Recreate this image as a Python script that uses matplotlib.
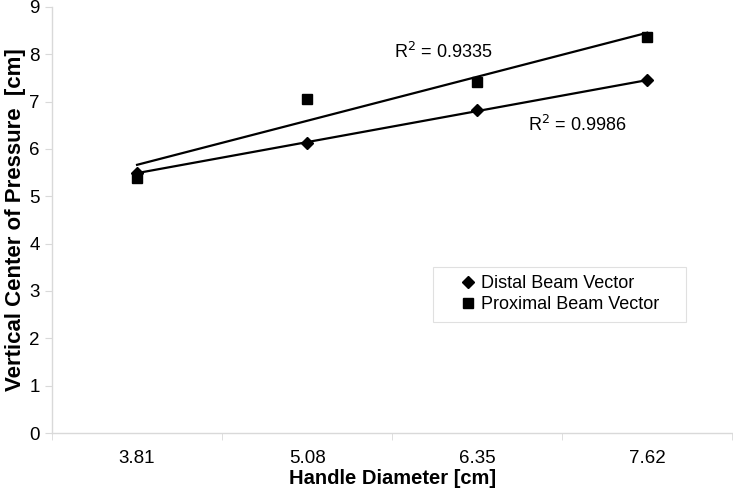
import matplotlib
matplotlib.use("Agg")
import matplotlib.pyplot as plt
import numpy as np

plt.rcParams['font.family'] = ['Liberation Sans', 'DejaVu Sans']

categories = ["3.81", "5.08", "6.35", "7.62"]
distal = [5.50, 6.12, 6.82, 7.45]
proximal = [5.39, 7.06, 7.42, 8.37]
r2_distal = "R$^2$ = 0.9986"
r2_proximal = "R$^2$ = 0.9335"

grey = "#d9d9d9"

fig = plt.figure(figsize=(7.33, 4.96), dpi=100)
ax = fig.add_axes([0.071, 0.127, 0.928, 0.859])

x = np.arange(1, len(categories) + 1)

# linear trend lines (Excel style)
for vals in (proximal, distal):
    k, b = np.polyfit(x, vals, 1)
    ax.plot(x, k * x + b, color="black", lw=1.6, zorder=2)

ax.plot(x, distal, linestyle="none", marker="D", ms=6, color="black",
        label="Distal Beam Vector", zorder=3)
ax.plot(x, proximal, linestyle="none", marker="s", ms=7, color="black",
        label="Proximal Beam Vector", zorder=3)

ax.text(2.51, 8.05, r2_proximal, fontsize=13, va="center", ha="left")
ax.text(3.30, 6.51, r2_distal, fontsize=13, va="center", ha="left")

ax.set_xlim(0.5, 4.5)
ax.set_ylim(0, 9)
ax.set_yticks(range(0, 10))
ax.set_xticks(x)
ax.set_xticklabels(categories)
ax.set_xticks(np.arange(0.5, 4.6, 1.0), minor=True)
ax.tick_params(axis="x", which="major", length=0, labelsize=13.5, pad=12)
ax.tick_params(axis="x", which="minor", length=5, color=grey)
ax.tick_params(axis="y", length=5, color=grey, labelsize=13.5, pad=4)

for s in ("top", "right"):
    ax.spines[s].set_visible(False)
for s in ("left", "bottom"):
    ax.spines[s].set_color(grey)
    ax.spines[s].set_linewidth(1.0)

ax.set_xlabel("Handle Diameter [cm]", fontsize=14.5, fontweight="bold", labelpad=2)
ax.set_ylabel("Vertical Center of Pressure  [cm]", fontsize=16, fontweight="bold")
ax.yaxis.set_label_coords(-0.038, 0.5)

leg = ax.legend(loc="upper left", bbox_to_anchor=(0.56, 0.39, 0.372, 0.0),
                mode="expand", fontsize=13,
                frameon=True, fancybox=False, handletextpad=-0.8, handlelength=3.0,
                borderpad=0.45, labelspacing=0.25, borderaxespad=0)
leg.get_frame().set_edgecolor(grey)
leg.get_frame().set_linewidth(0.8)

fig.savefig("out.png", dpi=100)
